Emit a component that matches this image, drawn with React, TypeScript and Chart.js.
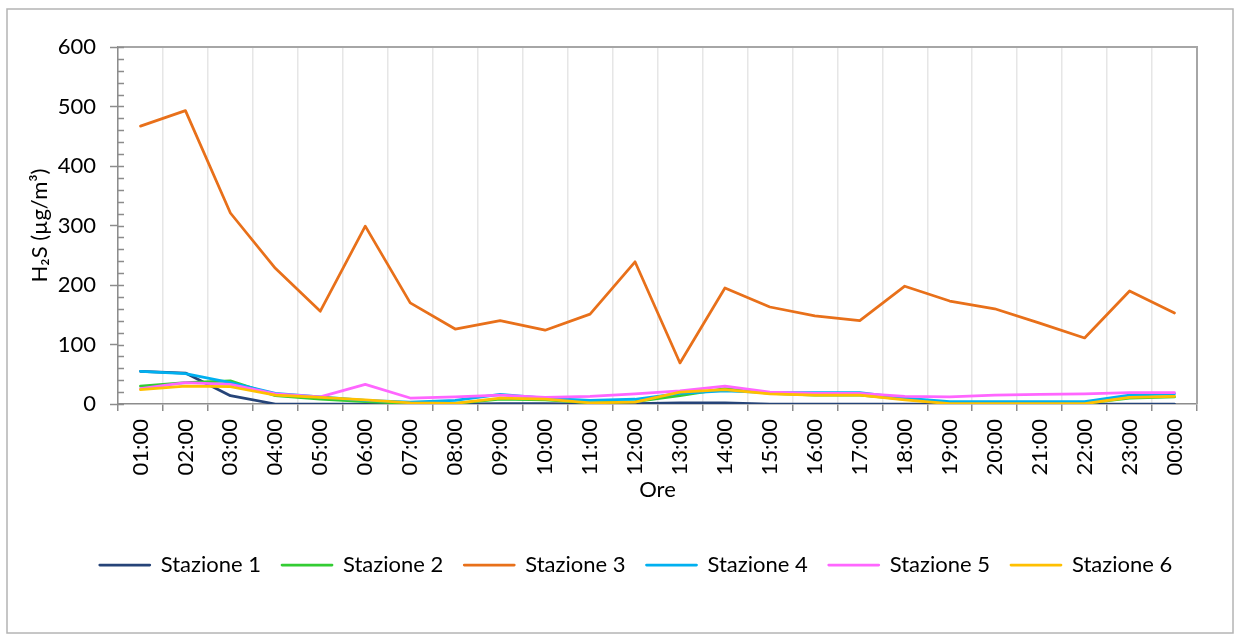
import React, { useEffect, useRef } from "react";
import { Chart, registerables } from "chart.js";

Chart.register(...registerables);

const hours = [
  "01:00", "02:00", "03:00", "04:00", "05:00", "06:00", "07:00", "08:00",
  "09:00", "10:00", "11:00", "12:00", "13:00", "14:00", "15:00", "16:00",
  "17:00", "18:00", "19:00", "20:00", "21:00", "22:00", "23:00", "00:00",
];

const stazione1 = [55, 52, 14, 0, 0, 0, 0, 0, 0.5, 0.5, 0, 0.5, 2, 2, 0, 0, 0, 0, 0, 0, 0, 0, 0, 0];
const stazione2 = [30, 36, 39, 14, 8, 4, 1, 1, 8, 7, 2, 4, 14, 26, 18, 15, 15, 8, 1, 1, 1, 1, 10, 12];
const stazione3 = [467, 493, 321, 228, 156, 299, 170, 126, 140, 124, 151, 239, 69, 195, 163, 148, 140, 198, 173, 160, 136, 111, 190, 153];
const stazione4 = [55, 51, 36, 18, 12, 6, 3, 6, 16, 10, 6, 8, 18, 22, 19, 19, 19, 10, 4, 4, 4, 4, 15, 17];
const stazione5 = [26, 36, 33, 17, 12, 33, 10, 12, 15, 11, 13, 17, 22, 30, 20, 18, 18, 13, 12, 15, 16, 17, 19, 19];
const stazione6 = [24, 30, 29, 15, 11, 7, 2, 1, 10, 8, 2, 3, 20, 24, 17, 15, 15, 7, 0.5, 0.5, 0.5, 0.5, 11, 13];

const seriesNames = ["Stazione 1", "Stazione 2", "Stazione 3", "Stazione 4", "Stazione 5", "Stazione 6"];
const seriesValues = [stazione1, stazione2, stazione3, stazione4, stazione5, stazione6];
const seriesColors = ["#264478", "#33CC33", "#E8701A", "#00B0F0", "#FF66FF", "#FFC000"];

const yMin = 0;
const yMax = 600;
const yStep = 100;
const yMinorStep = 20;

const yTitle = "H\u2082S (\u00B5g/m\u00B3)";
const xTitle = "Ore";

const FONT = "Lato, 'Open Sans', sans-serif";
const FS = 22;

const decorPlugin = {
  id: "decor",
  beforeDraw(chart: any) {
    const ctx = chart.ctx;
    ctx.save();
    ctx.fillStyle = "#ffffff";
    ctx.fillRect(0, 0, chart.width, chart.height);
    ctx.strokeStyle = "#b4b4b4";
    ctx.lineWidth = 1.5;
    ctx.strokeRect(7, 9, 1226, 624);
    ctx.restore();
  },
  beforeDatasetsDraw(chart: any) {
    const ctx = chart.ctx;
    const a = chart.chartArea;
    const ys = chart.scales.y;
    ctx.save();
    ctx.strokeStyle = "#a6a6a6";
    ctx.lineWidth = 2;
    ctx.beginPath();
    ctx.moveTo(a.left, a.top);
    ctx.lineTo(a.right, a.top);
    ctx.lineTo(a.right, a.bottom);
    ctx.stroke();
    ctx.strokeStyle = "#8c8c8c";
    ctx.lineWidth = 1.5;
    ctx.beginPath();
    for (let v = yMin; v <= yMax; v += yMinorStep) {
      const py = Math.round(ys.getPixelForValue(v)) + 0.5;
      ctx.moveTo(a.left, py);
      ctx.lineTo(a.left + 6, py);
    }
    ctx.stroke();
    ctx.restore();
  },
};

export default function App() {
  const ref = useRef<HTMLCanvasElement | null>(null);

  useEffect(() => {
    if (!ref.current) return;
    const chart = new Chart(ref.current, {
      type: "line",
      data: {
        labels: hours,
        datasets: seriesNames.map((name, i) => ({
          label: name,
          data: seriesValues[i],
          borderColor: seriesColors[i],
          backgroundColor: seriesColors[i],
          borderWidth: 2.75,
          pointRadius: 0,
          pointHoverRadius: 0,
          tension: 0,
          fill: false,
          borderCapStyle: "round" as const,
          borderJoinStyle: "round" as const,
          order: seriesNames.length - i,
        })),
      },
      options: {
        responsive: false,
        animation: false,
        devicePixelRatio: 1,
        font: { family: FONT },
        layout: { padding: { left: 40, right: 2, top: 47, bottom: 48 } },
        plugins: {
          tooltip: { enabled: false },
          legend: {
            position: "bottom",
            labels: {
              boxWidth: 50,
              boxHeight: 0,
              padding: 21,
              color: "#000",
              font: { family: FONT, size: FS },
              sort: (a: any, b: any) => a.datasetIndex - b.datasetIndex,
            },
          },
        },
        scales: {
          x: {
            offset: true,
            ticks: {
              color: "#000",
              font: { family: FONT, size: FS },
              minRotation: 90,
              maxRotation: 90,
              autoSkip: false,
              padding: 8,
            },
            grid: {
              offset: true,
              color: "#e6e6e6",
              lineWidth: 1.5,
              drawTicks: true,
              tickLength: 7,
              tickColor: "#8c8c8c",
              tickWidth: 1.5,
            },
            border: { color: "#8c8c8c", width: 1.5 },
            title: {
              display: true,
              text: xTitle,
              color: "#000",
              font: { family: FONT, size: FS },
              padding: { top: 0, bottom: 29.8 },
            },
            afterFit(s: any) {
              s.height = 129;
            },
          },
          y: {
            min: yMin,
            max: yMax,
            ticks: {
              stepSize: yStep,
              color: "#000",
              font: { family: FONT, size: FS },
              padding: 14,
            },
            grid: {
              drawOnChartArea: false,
              drawTicks: true,
              tickLength: 8,
              tickColor: "#8c8c8c",
              tickWidth: 1.5,
            },
            border: { color: "#8c8c8c", width: 1.5 },
            title: {
              display: true,
              text: yTitle,
              color: "#000",
              font: { family: FONT, size: FS },
              padding: { top: -13.2, bottom: 0 },
            },
            afterFit(s: any) {
              s.width = 78;
            },
          },
          y2: {
            type: "linear",
            position: "right",
            display: true,
            ticks: { display: false },
            grid: { display: false, drawTicks: false },
            border: { display: false },
            afterFit(s: any) {
              s.width = 35;
            },
          },
        },
      },
      plugins: [decorPlugin],
    } as any);
    return () => chart.destroy();
  }, []);

  return (
    <div style={{ position: "fixed", left: 0, top: 0, width: 1234, height: 634 }}>
      <canvas ref={ref} width={1234} height={634} style={{ display: "block" }} />
    </div>
  );
}
